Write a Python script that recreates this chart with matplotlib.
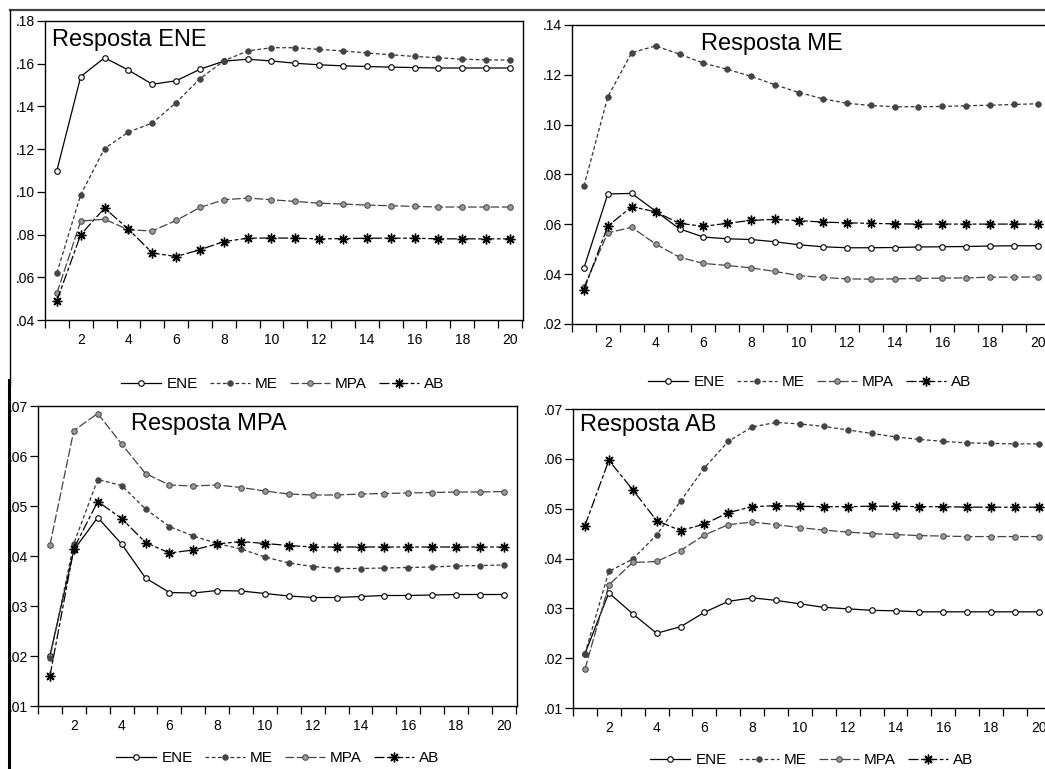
import matplotlib
matplotlib.use("Agg")
import matplotlib.pyplot as plt
from matplotlib.lines import Line2D
from matplotlib.ticker import FixedLocator, FuncFormatter

plt.rcParams['font.family'] = ['Liberation Sans', 'DejaVu Sans']

W, H = 1045, 769
periods = list(range(1, 21))
series = ["ENE", "ME", "MPA", "AB"]

# Resposta ENE
ene_ene = [0.110, 0.154, 0.1628, 0.157, 0.1504, 0.152, 0.1574, 0.1612, 0.1621, 0.1613,
           0.1602, 0.1595, 0.159, 0.1587, 0.1584, 0.1582, 0.158, 0.158, 0.158, 0.158]
ene_me = [0.0621, 0.0987, 0.1203, 0.128, 0.1322, 0.1418, 0.153, 0.1613, 0.166, 0.1675,
          0.1675, 0.1667, 0.166, 0.165, 0.1642, 0.1634, 0.1628, 0.1621, 0.1618, 0.1617]
ene_mpa = [0.0526, 0.0863, 0.0872, 0.0822, 0.0817, 0.0866, 0.0927, 0.0963, 0.0971, 0.0963,
           0.0955, 0.0947, 0.0943, 0.0938, 0.0935, 0.0932, 0.0929, 0.0929, 0.0929, 0.0929]
ene_ab = [0.0491, 0.080, 0.0924, 0.0825, 0.0714, 0.0697, 0.0729, 0.0767, 0.0783, 0.0784,
          0.0783, 0.078, 0.0781, 0.0783, 0.0783, 0.0783, 0.078, 0.078, 0.078, 0.078]

# Resposta ME
me_ene = [0.0425, 0.0722, 0.0724, 0.0653, 0.0582, 0.0549, 0.0542, 0.0539, 0.053, 0.0518,
          0.051, 0.0506, 0.0506, 0.0507, 0.0509, 0.051, 0.0511, 0.0513, 0.0514, 0.0514]
me_me = [0.0754, 0.1112, 0.1289, 0.1316, 0.1283, 0.1247, 0.1222, 0.1194, 0.116, 0.1129,
         0.1104, 0.1086, 0.1077, 0.1072, 0.1072, 0.1073, 0.1076, 0.1078, 0.1081, 0.1084]
me_mpa = [0.0348, 0.0566, 0.0588, 0.0521, 0.0468, 0.0443, 0.0435, 0.0425, 0.0411, 0.0394,
          0.0387, 0.0381, 0.038, 0.0381, 0.0383, 0.0384, 0.0385, 0.0388, 0.0388, 0.0389]
me_ab = [0.0337, 0.0593, 0.0671, 0.065, 0.0604, 0.0592, 0.0604, 0.0616, 0.062, 0.0615,
         0.0609, 0.0606, 0.0604, 0.0602, 0.0601, 0.0601, 0.0601, 0.0601, 0.0601, 0.0601]

# Resposta MPA
mpa_ene = [0.0201, 0.0412, 0.0477, 0.0424, 0.0356, 0.0327, 0.0326, 0.0331, 0.033, 0.0325,
           0.032, 0.0317, 0.0317, 0.0319, 0.0321, 0.0321, 0.0322, 0.0323, 0.0323, 0.0323]
mpa_me = [0.0196, 0.0425, 0.0553, 0.0541, 0.0494, 0.0459, 0.044, 0.0425, 0.0414, 0.0398,
          0.0386, 0.0379, 0.0375, 0.0375, 0.0376, 0.0377, 0.0378, 0.038, 0.0381, 0.0382]
mpa_mpa = [0.0422, 0.0651, 0.0685, 0.0624, 0.0565, 0.0542, 0.054, 0.0542, 0.0537, 0.053,
           0.0524, 0.0522, 0.0522, 0.0524, 0.0525, 0.0526, 0.0527, 0.0528, 0.0528, 0.0529]
mpa_ab = [0.016, 0.0415, 0.0509, 0.0475, 0.0427, 0.0406, 0.0412, 0.0424, 0.0429, 0.0425,
          0.0421, 0.0418, 0.0418, 0.0418, 0.0418, 0.0418, 0.0418, 0.0418, 0.0418, 0.0418]

# Resposta AB
ab_ene = [0.0209, 0.0331, 0.0289, 0.025, 0.0263, 0.0292, 0.0314, 0.0321, 0.0316, 0.0309,
          0.0302, 0.0299, 0.0296, 0.0295, 0.0293, 0.0293, 0.0293, 0.0293, 0.0293, 0.0293]
ab_me = [0.0209, 0.0374, 0.0399, 0.0447, 0.0515, 0.0582, 0.0635, 0.0664, 0.0673, 0.067,
         0.0665, 0.0658, 0.0651, 0.0644, 0.0639, 0.0635, 0.0632, 0.0631, 0.063, 0.063]
ab_mpa = [0.0178, 0.0347, 0.0392, 0.0394, 0.0416, 0.0447, 0.0468, 0.0473, 0.0468, 0.0462,
          0.0457, 0.0453, 0.045, 0.0448, 0.0446, 0.0445, 0.0444, 0.0444, 0.0444, 0.0444]
ab_ab = [0.0466, 0.0597, 0.0538, 0.0476, 0.0456, 0.0469, 0.0492, 0.0504, 0.0506, 0.0505,
         0.0504, 0.0504, 0.0505, 0.0505, 0.0504, 0.0504, 0.0503, 0.0503, 0.0503, 0.0503]

styles = {
    "ENE": dict(color="black", ls="-", marker="o", ms=4, mfc="white", mec="black", mew=0.8),
    "ME": dict(color="#333333", ls=(0, (3, 2)), marker="o", ms=4, mfc="#444444", mec="#444444", mew=0.6),
    "MPA": dict(color="#444444", ls=(0, (7, 2)), marker="o", ms=4, mfc="#999999", mec="#444444", mew=0.7),
    "AB": dict(color="black", ls=(0, (8, 2, 3, 2)), marker=(8, 2, 0), ms=7, mfc="black", mec="black", mew=1.0),
}

# name, data, y range, axes box in pixels (left, top, right, bottom), title pos, legend pos
panels = [
    ("Resposta ENE", [ene_ene, ene_me, ene_mpa, ene_ab], (0.04, 0.18, 0.02),
     (45, 21, 523, 320), (52, 46), (283, 384)),
    ("Resposta ME", [me_ene, me_me, me_mpa, me_ab], (0.02, 0.14, 0.02),
     (572, 25, 1051, 324), (701, 50), (810, 382)),
    ("Resposta MPA", [mpa_ene, mpa_me, mpa_mpa, mpa_ab], (0.01, 0.07, 0.01),
     (38, 406, 517, 706), (131, 430), (278, 758)),
    ("Resposta AB", [ab_ene, ab_me, ab_mpa, ab_ab], (0.01, 0.07, 0.01),
     (573, 409, 1052, 708), (580, 431), (812, 760)),
]

fig = plt.figure(figsize=(W / 100, H / 100), dpi=100)
fig.patch.set_facecolor("white")

for title, data, (ylo, yhi, ystep), (l, t, r, b), (tx, ty), (lx, ly) in panels:
    ax = fig.add_axes([l / W, 1 - b / H, (r - l) / W, (b - t) / H])
    for name, vals in zip(series, data):
        ax.plot(periods, vals, lw=0.9, label=name, **styles[name])
    ax.set_xlim(0.5, 20.55)
    ax.set_ylim(ylo, yhi)
    n = int(round((yhi - ylo) / ystep))
    ax.yaxis.set_major_locator(FixedLocator([ylo + i * ystep for i in range(n + 1)]))
    ax.yaxis.set_major_formatter(FuncFormatter(lambda v, p: ("%.2f" % v).lstrip("0")))
    ax.xaxis.set_major_locator(FixedLocator(list(range(2, 21, 2))))
    ax.xaxis.set_minor_locator(FixedLocator([i + 0.5 for i in range(0, 21)]))
    ax.tick_params(axis="x", which="major", length=0, pad=9, labelsize=10)
    ax.tick_params(axis="x", which="minor", length=6, width=0.9, direction="out")
    ax.tick_params(axis="y", which="major", length=6, width=0.9, direction="out", pad=1, labelsize=10)
    for sp in ax.spines.values():
        sp.set_linewidth(1.0)
    fig.text(tx / W, 1 - ty / H, title, fontsize=17, va="baseline", ha="left")
    handles, labels = ax.get_legend_handles_labels()
    fig.legend(handles, labels, loc="center", bbox_to_anchor=(lx / W, 1 - ly / H),
               ncol=4, frameon=False, fontsize=11, handlelength=2.6, handletextpad=0.35,
               columnspacing=0.8, numpoints=1, borderpad=0, borderaxespad=0)

# outer page border lines
fig.add_artist(Line2D([10 / W, 1], [1 - 10 / H, 1 - 10 / H], color="#444444", lw=1.6))
fig.add_artist(Line2D([10 / W, 10 / W], [1 - 10 / H, 1 - 385 / H], color="black", lw=1.0))
fig.add_artist(Line2D([9 / W, 9 / W], [1 - 380 / H, 0], color="black", lw=2.2))

fig.savefig("out.png", dpi=100)
